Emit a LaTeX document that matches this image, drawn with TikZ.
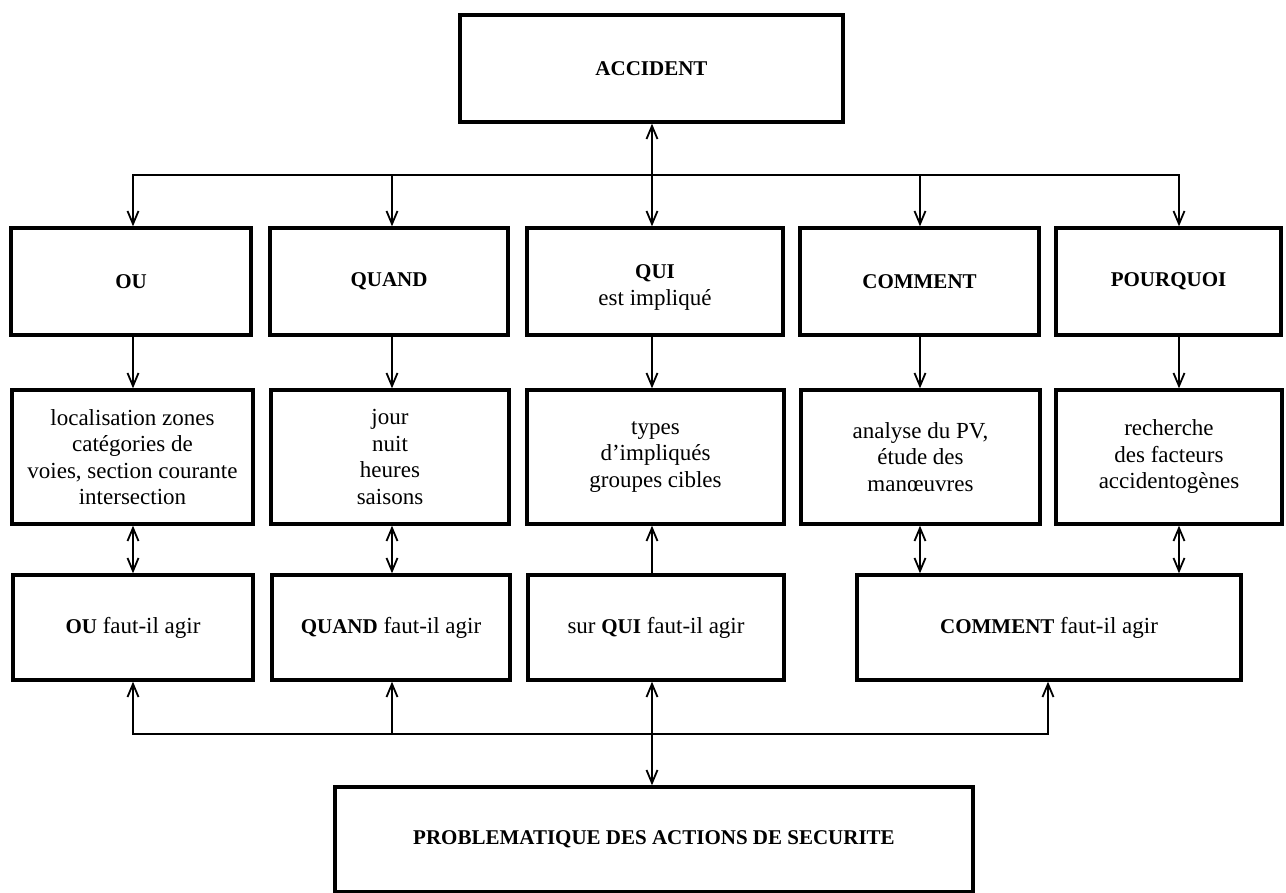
\documentclass[tikz,border=0pt]{standalone}
\usepackage{fontspec}
\setmainfont{Liberation Serif}
\usetikzlibrary{arrows.meta}
\newcommand\motcle[1]{{\fontsize{10.5}{13.25}\selectfont\bfseries #1}}
\begin{document}
\begin{tikzpicture}[x=0.5pt,y=-0.5pt,
  >={Straight Barb[length=6.5pt,width=5.5pt]},
  boite/.style={draw, line width=1.7pt, inner sep=0pt, align=center,
    font=\fontsize{11.5}{13.25}\selectfont},
  lien/.style={line width=0.9pt}]
\useasboundingbox (0,0) rectangle (1286,893);

% column and bus positions
\coordinate (c1) at (133,0);
\coordinate (c2) at (392,0);
\coordinate (c3) at (652,0);
\coordinate (c4) at (920,0);
\coordinate (c5) at (1179,0);
\coordinate (cx) at (1048,0);
\coordinate (bus1) at (0,175);
\coordinate (bus2) at (0,734);

% top
\node[boite, minimum width=191.5pt, minimum height=53.5pt] (acc) at (651.5,68.5) {\motcle{ACCIDENT}};

% first row: the questions
\node[boite, minimum width=120pt, minimum height=53.5pt] (ou) at (131,281.5) {\motcle{OU}};
\node[boite, minimum width=119pt, minimum height=53.5pt] (qd) at (389,281.5) {\motcle{QUAND}};
\node[boite, minimum width=128pt, minimum height=53.5pt, text height=26pt] (qui) at (655,281.5) {\motcle{QUI}\\est impliqué};
\node[boite, minimum width=119.5pt, minimum height=53.5pt] (cm) at (919.5,281.5) {\motcle{COMMENT}};
\node[boite, minimum width=112.5pt, minimum height=53.5pt] (pq) at (1168.5,281.5) {\motcle{POURQUOI}};

% second row: the analyses
\node[boite, minimum width=120.5pt, minimum height=67pt] (ou2) at (132.5,457) {localisation zones\\catégories de\\voies, section courante\\intersection};
\node[boite, minimum width=119pt, minimum height=67pt] (qd2) at (390,457) {jour\\nuit\\heures\\saisons};
\node[boite, minimum width=128.5pt, minimum height=67pt] (qui2) at (655.5,457) {types\\d’impliqués\\groupes cibles};
\node[boite, minimum width=119.5pt, minimum height=67pt] (cm2) at (920.5,457) {analyse du PV,\\étude des\\manœuvres};
\node[boite, minimum width=113pt, minimum height=67pt] (pq2) at (1169,457) {recherche\\des facteurs\\accidentogènes};

% third row: where to act
\node[boite, minimum width=120pt, minimum height=52.5pt] (ou3) at (133,627.5) {\motcle{OU} faut-il agir};
\node[boite, minimum width=119pt, minimum height=52.5pt] (qd3) at (391,627.5) {\motcle{QUAND} faut-il agir};
\node[boite, minimum width=128pt, minimum height=52.5pt] (qui3) at (656,627.5) {sur \motcle{QUI} faut-il agir};
\node[boite, minimum width=192pt, minimum height=52.5pt] (cm3) at (1049,627.5) {\motcle{COMMENT} faut-il agir};

% bottom
\node[boite, minimum width=319pt, minimum height=52.5pt] (prob) at (654,839.5) {\motcle{PROBLEMATIQUE DES ACTIONS DE SECURITE}};

% upper bus
\draw[lien,<->] (ou.north -| c1) -- (c1 |- bus1) -- (c5 |- bus1) -- (pq.north -| c5);
\draw[lien,->] (c2 |- bus1) -- (qd.north -| c2);
\draw[lien,->] (c4 |- bus1) -- (cm.north -| c4);
\draw[lien,<->] (acc.south -| c3) -- (qui.north -| c3);

% first to second row
\draw[lien,->] (ou.south -| c1) -- (ou2.north -| c1);
\draw[lien,->] (qd.south -| c2) -- (qd2.north -| c2);
\draw[lien,->] (qui.south -| c3) -- (qui2.north -| c3);
\draw[lien,->] (cm.south -| c4) -- (cm2.north -| c4);
\draw[lien,->] (pq.south -| c5) -- (pq2.north -| c5);

% second to third row
\draw[lien,<->] (ou2.south -| c1) -- (ou3.north -| c1);
\draw[lien,<->] (qd2.south -| c2) -- (qd3.north -| c2);
\draw[lien,->] (qui3.north -| c3) -- (qui2.south -| c3);
\draw[lien,<->] (cm2.south -| c4) -- (cm3.north -| c4);
\draw[lien,<->] (pq2.south -| c5) -- (cm3.north -| c5);

% lower bus
\draw[lien,<->] (ou3.south -| c1) -- (c1 |- bus2) -- (cx |- bus2) -- (cm3.south -| cx);
\draw[lien,->] (c2 |- bus2) -- (qd3.south -| c2);
\draw[lien,<->] (qui3.south -| c3) -- (prob.north -| c3);
\end{tikzpicture}
\end{document}
